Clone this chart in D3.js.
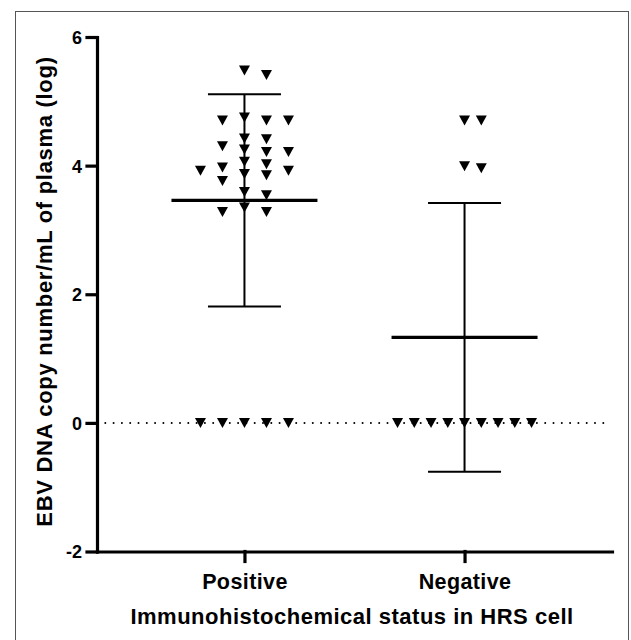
<!DOCTYPE html>
<html>
<head>
<meta charset="utf-8">
<script src="https://cdn.jsdelivr.net/npm/d3@7"></script>
<style>
  body { margin: 0; background: #fff; }
  svg { display: block; }
  text { font-family: "Liberation Sans", Arial, sans-serif; font-weight: bold; fill: #000; }
</style>
</head>
<body>
<svg id="chart" width="631" height="640"></svg>
<script>
(function () {
  'use strict';

  // groups on the x axis
  var groups = ['Positive', 'Negative'];

  // log EBV DNA copies per group
  var positiveValues = [5.48, 5.41, 4.75, 4.70, 4.70, 4.70, 4.42, 4.41, 4.30, 4.25, 4.21, 4.21,
    4.06, 4.02, 3.97, 3.92, 3.92, 3.87, 3.85, 3.76, 3.59, 3.54, 3.35, 3.28, 3.28,
    0, 0, 0, 0, 0];
  var negativeValues = [4.70, 4.70, 3.99, 3.96, 0, 0, 0, 0, 0, 0, 0, 0, 0];

  // mean and SD bars
  var groupMeans = [3.46, 1.33];
  var groupSD = [1.65, 2.09];

  var yTicks = [-2, 0, 2, 4, 6];
  var yTitle = 'EBV DNA copy number/mL of plasma (log)';
  var xTitle = 'Immunohistochemical status in HRS cell';

  var svg = d3.select('#chart');

  // outer frame
  svg.append('rect')
    .attr('x', 15.5)
    .attr('y', 11.5)
    .attr('width', 613)
    .attr('height', 640)
    .attr('fill', 'none')
    .attr('stroke', '#555')
    .attr('stroke-width', 1);

  var x = d3.scalePoint()
    .domain(groups)
    .range([97, 612])
    .padding(0.67);

  var y = d3.scaleLinear()
    .domain([-2, 6])
    .range([551.5, 37]);

  // dotted zero line
  svg.append('line')
    .attr('x1', 97)
    .attr('x2', 609)
    .attr('y1', y(0))
    .attr('y2', y(0))
    .attr('stroke', '#000')
    .attr('stroke-width', 2)
    .attr('stroke-linecap', 'round')
    .attr('stroke-dasharray', '0,8.3');

  // simple swarm layout: nearest free slot around the group centre
  function swarm (values) {
    var counts = d3.rollup(values, function (v) { return v.length; }, function (v) { return v; });
    var maxSame = d3.max(Array.from(counts.values()));
    var step = maxSame > 1 ? Math.min(22, 134 / (maxSame - 1)) : 22;
    var placed = [];
    values.slice().sort(d3.descending).forEach(function (v) {
      var py = y(v);
      for (var k = 0; k < 40; k++) {
        var off = k === 0 ? 0 : (k % 2 ? 1 : -1) * Math.ceil(k / 2) * step / 2;
        var hit = placed.some(function (p) {
          return Math.abs(p.off - off) < step - 0.01 && Math.abs(p.y - py) < 9.5;
        });
        if (!hit) {
          placed.push({ value: v, y: py, off: off });
          break;
        }
      }
    });
    return placed;
  }

  var tri = 'M-5.5,-5L5.5,-5L0,5Z';

  [positiveValues, negativeValues].forEach(function (vals, i) {
    var cx = x(groups[i]);
    var g = svg.append('g');
    g.selectAll('path')
      .data(swarm(vals))
      .enter()
      .append('path')
      .attr('d', tri)
      .attr('fill', '#000')
      .attr('transform', function (d) {
        return 'translate(' + (cx + d.off) + ',' + d.y + ')';
      });

    var m = groupMeans[i];
    var s = groupSD[i];
    // error bar
    g.append('line')
      .attr('x1', cx).attr('x2', cx)
      .attr('y1', y(m + s)).attr('y2', y(m - s))
      .attr('stroke', '#000').attr('stroke-width', 2);
    [m + s, m - s].forEach(function (v) {
      g.append('line')
        .attr('x1', cx - 36.5).attr('x2', cx + 36.5)
        .attr('y1', y(v)).attr('y2', y(v))
        .attr('stroke', '#000').attr('stroke-width', 2);
    });
    // mean
    g.append('line')
      .attr('x1', cx - 73).attr('x2', cx + 73)
      .attr('y1', y(m)).attr('y2', y(m))
      .attr('stroke', '#000').attr('stroke-width', 3.2);
  });

  // axes
  var yAxis = svg.append('g')
    .attr('transform', 'translate(97,0)')
    .call(d3.axisLeft(y).tickValues(yTicks).tickSize(10).tickSizeOuter(0).tickPadding(5)
      .tickFormat(function (d) { return String(d); }));
  var xAxis = svg.append('g')
    .attr('transform', 'translate(0,551.5)')
    .call(d3.axisBottom(x).tickSize(10).tickSizeOuter(0).tickPadding(13));

  [yAxis, xAxis].forEach(function (a) {
    a.selectAll('path, line')
      .attr('stroke', '#000')
      .attr('stroke-width', 3.2)
      .attr('stroke-linecap', 'square');
  });
  yAxis.selectAll('text')
    .attr('font-size', 18)
    .attr('dy', '0.36em');
  xAxis.selectAll('text')
    .attr('font-size', 21.5)
    .attr('letter-spacing', 0.4)
    .attr('dy', '0.68em');

  // titles
  svg.append('text')
    .attr('x', 352)
    .attr('y', 624)
    .attr('text-anchor', 'middle')
    .attr('font-size', 22)
    .attr('letter-spacing', 0.5)
    .text(xTitle);

  svg.append('text')
    .attr('transform', 'translate(52,291.5) rotate(-90)')
    .attr('text-anchor', 'middle')
    .attr('font-size', 22)
    .attr('letter-spacing', 0.7)
    .text(yTitle);
}());
</script>
</body>
</html>
